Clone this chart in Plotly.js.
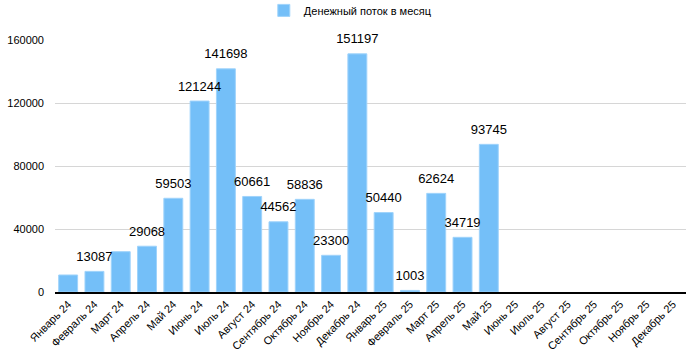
<!DOCTYPE html>
<html><head><meta charset="utf-8">
<script src="https://cdn.plot.ly/plotly-3.0.1.min.js"></script>
<style>html,body{margin:0;padding:0;background:#fff}#c{width:700px;height:353px}</style>
</head><body><div id="c"></div>
<script>
const months = ["Январь 24","Февраль 24","Март 24","Апрель 24","Май 24","Июнь 24","Июль 24","Август 24","Сентябрь 24","Октябрь 24","Ноябрь 24","Декабрь 24","Январь 25","Февраль 25","Март 25","Апрель 25","Май 25","Июнь 25","Июль 25","Август 25","Сентябрь 25","Октябрь 25","Ноябрь 25","Декабрь 25"];
const cashflow = [10800,13087,25600,29068,59503,121244,141698,60661,44562,58836,23300,151197,50440,1003,62624,34719,93745,null,null,null,null,null,null,null];
const shownLabels = ["","13087","","29068","59503","121244","141698","60661","44562","58836","23300","151197","50440","1003","62624","34719","93745","","","","","","",""];
const yTicks = [0,40000,80000,120000,160000];

Plotly.newPlot('c', [{
  type:'bar', x:months, y:cashflow, name:'Денежный поток в месяц',
  marker:{color:'#74bff8', line:{color:'#9fd3fb', width:1}},
  showlegend:true
},{
  type:'scatter', mode:'markers+text', x:months, y:cashflow, text:shownLabels,
  marker:{size:10, opacity:0},
  textposition:'top center', cliponaxis:false, showlegend:false, hoverinfo:'skip',
  textfont:{size:13,color:'#000',family:'Liberation Sans, Arial, sans-serif'}
}], {
  width:700, height:353,
  margin:{l:55, r:14, t:40, b:61, autoexpand:false},
  font:{family:'Liberation Sans, Arial, sans-serif', size:11, color:'#000'},
  paper_bgcolor:'#fff', plot_bgcolor:'#fff',
  bargap:0.28,
  showlegend:true,
  legend:{orientation:'h', x:0.468, xanchor:'center', y:1.175, yref:'paper', yanchor:'top',
          font:{size:11}, itemwidth:30},
  xaxis:{tickangle:-45, showgrid:false, showline:true, linecolor:'#000', linewidth:1.5,
         range:[-0.5, months.length-0.5], autorange:false,
         ticks:'', tickfont:{size:11}, automargin:false, fixedrange:true},
  yaxis:{range:[0,160000], tickvals:yTicks, ticktext:yTicks.map(String), showgrid:true,
         gridcolor:'#d6d6d6', zeroline:false, showline:false, ticks:'', ticklen:0,
         ticklabelstandoff:10,
         tickfont:{size:11}, automargin:false, fixedrange:true}
}, {displayModeBar:false, staticPlot:true});
</script></body></html>
